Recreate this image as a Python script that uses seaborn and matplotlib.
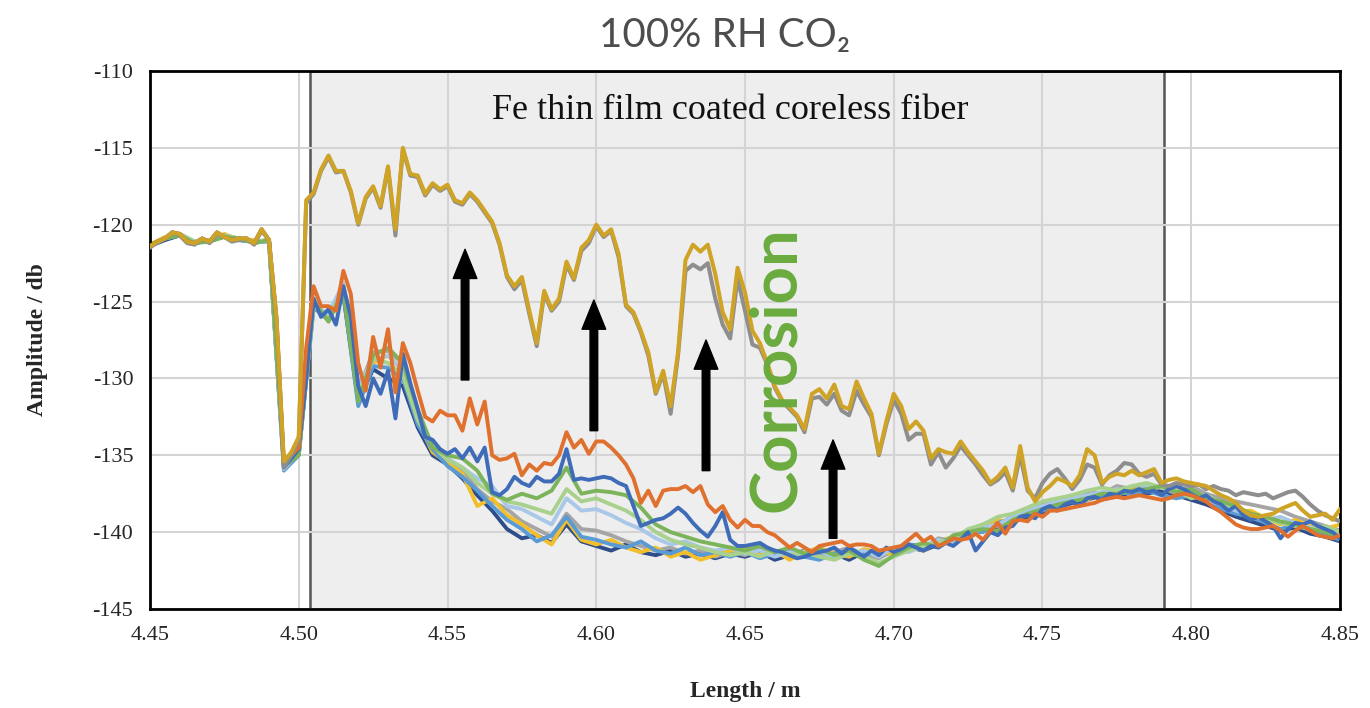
import numpy as np
import matplotlib
matplotlib.use('Agg')
import matplotlib.pyplot as plt
import seaborn as sns

# %%
# Trace positions (m)
length_fine = np.linspace(4.45, 4.85, 161)    # 0.0025 m step
length_coarse = np.linspace(4.45, 4.85, 81)   # 0.005 m step

# After corrosion (upper traces)
amp_gold = [
    -121.4, -121.1, -120.9, -120.5, -120.6, -121.1, -121.2, -120.9, -121.1, -120.5,
    -120.8, -121.0, -120.9, -120.9, -121.2, -120.3, -121.0, -126.0, -135.4, -134.8,
    -133.8, -118.4, -117.9, -116.4, -115.5, -116.5, -116.5, -117.8, -119.9, -118.2,
    -117.5, -118.8, -116.2, -120.3, -115.0, -116.7, -116.8, -118.0, -117.3, -117.7,
    -117.4, -118.4, -118.6, -117.9, -118.4, -119.1, -119.8, -121.2, -123.3, -124.0,
    -123.4, -125.6, -127.7, -124.3, -125.5, -124.8, -122.4, -123.5, -121.5, -121.0,
    -120.0, -120.7, -120.3, -121.9, -125.2, -125.7, -126.9, -128.3, -130.9, -129.5,
    -131.8, -128.3, -122.3, -121.3, -121.75, -121.3, -123.2, -125.7, -126.8, -122.8,
    -124.4, -126.9, -127.7, -129.0, -130.5, -131.4, -131.9, -132.4, -133.3, -131.0,
    -130.7, -131.3, -130.4, -131.8, -132.0, -130.2, -131.3, -132.3, -134.9, -132.8,
    -131.0, -131.8, -133.3, -132.8, -133.4, -135.2, -134.6, -134.8, -134.9, -134.1,
    -134.8, -135.4, -136.0, -136.8, -136.4, -135.8, -137.1, -134.4, -137.1, -138.0,
    -137.4, -137.0, -136.5, -136.7, -137.0, -136.3, -134.6, -135.0, -136.8, -136.4,
    -136.2, -136.3, -136.0, -136.3, -136.1, -135.9, -136.8, -136.6, -136.5, -136.7,
    -136.8, -136.9, -137.0, -137.3, -137.6, -137.8, -138.1, -138.6, -138.9, -139.0,
    -138.9, -138.8, -138.5, -138.3, -138.1, -138.6, -139.0, -138.9, -138.8, -139.2,
    -138.5]
amp_grey_top = [
    -121.5, -121.1, -120.9, -120.5, -120.7, -121.2, -121.3, -120.9, -121.2, -120.6,
    -120.8, -121.1, -121.0, -120.9, -121.3, -120.4, -121.0, -126.2, -135.8, -135.0,
    -134.0, -118.6, -118.0, -116.5, -115.6, -116.6, -116.5, -117.9, -120.0, -118.3,
    -117.6, -118.9, -116.3, -120.7, -115.1, -116.8, -116.9, -118.1, -117.4, -117.8,
    -117.5, -118.5, -118.7, -118.0, -118.5, -119.2, -119.9, -121.3, -123.4, -124.2,
    -123.6, -125.8, -127.9, -124.5, -125.6, -125.0, -122.6, -123.6, -121.7, -121.2,
    -120.1, -120.8, -120.4, -122.1, -125.3, -125.8, -127.0, -128.5, -131.0, -129.7,
    -132.3, -128.5, -123.0, -122.6, -122.9, -122.5, -124.8, -126.5, -127.4, -123.5,
    -125.6, -127.8, -128.0, -129.1, -130.6, -131.5, -132.0, -132.5, -133.5, -131.3,
    -131.2, -131.7, -131.0, -132.1, -132.4, -130.8, -131.7, -132.5, -135.0, -133.0,
    -131.4, -132.3, -134.0, -133.6, -133.6, -135.6, -134.8, -135.8, -135.2, -134.4,
    -135.0, -135.6, -136.3, -136.9, -136.6, -136.1, -137.3, -135.0, -137.3, -137.8,
    -136.8, -136.2, -135.9, -136.5, -137.2, -136.6, -135.6, -135.8, -136.9, -136.3,
    -136.0, -135.5, -135.6, -136.2, -136.4, -136.2, -136.9, -137.0, -136.8, -136.9,
    -137.0, -136.9, -137.2, -137.0, -137.2, -137.3, -137.6, -137.4, -137.5, -137.6,
    -137.5, -137.8, -137.6, -137.4, -137.3, -137.7, -138.2, -138.6, -138.9, -139.1,
    -139.3]

# Before / during exposure (lower bundle)
amp_orange = [
    -121.4, -121.1, -120.9, -120.5, -120.6, -121.1, -121.2, -120.9, -121.1, -120.5,
    -120.8, -121.0, -120.9, -120.9, -121.2, -120.3, -121.0, -126.0, -135.5, -135.0,
    -134.5, -128.0, -124.0, -125.3, -125.3, -125.6, -123.0, -124.5, -129.0, -130.8,
    -127.3, -129.3, -126.8, -130.9, -127.7, -129.0, -130.8, -132.5, -132.8, -132.1,
    -132.4, -132.4, -133.4, -131.3, -133.0, -131.5, -135.0, -135.3, -135.2, -134.9,
    -136.3, -135.6, -136.0, -135.5, -135.6, -135.0, -133.5, -134.5, -134.0, -134.9,
    -134.1, -134.1, -134.5, -135.0, -135.6, -136.5, -138.1, -137.3, -138.3, -137.3,
    -137.2, -137.2, -137.0, -137.4, -137.0, -138.2, -138.7, -138.3, -139.2, -139.7,
    -139.2, -139.6, -139.6, -140.0, -140.2, -140.6, -141.0, -140.7, -141.0, -141.3,
    -140.9, -140.8, -140.7, -140.6, -140.9, -140.8, -140.8, -140.9, -141.2, -141.1,
    -141.0, -140.9, -140.5, -140.1, -140.6, -140.3, -140.9, -140.7, -140.4, -140.5,
    -140.4, -140.1, -140.5, -139.9, -139.4, -140.1, -139.3, -139.2, -139.3, -138.8,
    -139.0, -138.6, -138.6, -138.5, -138.4, -138.3, -138.2, -138.1, -137.9, -137.8,
    -137.7, -137.8, -137.7, -137.6, -137.7, -137.8, -137.9, -137.8, -137.6, -137.5,
    -137.6, -137.8, -138.0, -138.4, -138.7, -139.1, -139.5, -139.7, -139.8, -139.8,
    -139.7, -139.6, -139.9, -140.3, -139.9, -139.6, -139.9, -140.2, -140.3, -140.4,
    -140.2]
amp_blue = [
    -121.4, -121.1, -120.9, -120.5, -120.6, -121.1, -121.2, -120.9, -121.1, -120.5,
    -120.8, -121.0, -120.9, -120.9, -121.2, -120.3, -121.0, -126.3, -135.8, -135.2,
    -134.6, -130.0, -124.8, -126.0, -125.5, -126.5, -124.0, -126.0, -130.5, -131.8,
    -130.0, -131.0, -129.5, -132.6, -128.4, -130.3, -132.0, -133.8, -134.0, -134.6,
    -134.9, -134.6, -135.2, -134.5, -135.4, -134.5, -137.4, -137.6, -137.2, -136.4,
    -136.8, -137.0, -136.4, -136.7, -136.7, -136.2, -134.6, -136.6, -136.5, -136.6,
    -136.5, -136.4, -136.5, -136.8, -137.0, -138.3, -139.6, -139.4, -139.2, -139.1,
    -138.8, -138.4, -138.8, -139.4, -139.9, -140.3, -139.6, -138.7, -140.5, -140.9,
    -140.9, -140.8, -140.7, -141.0, -141.2, -141.3, -141.5, -141.7, -141.6, -141.4,
    -141.3, -141.2, -141.0, -141.4, -141.0, -141.3, -141.6, -141.2, -141.5, -141.0,
    -141.3, -141.1, -140.8, -141.0, -141.2, -140.9, -141.0, -140.7, -140.9, -140.5,
    -140.0, -141.2, -140.6, -140.0, -140.2, -139.7, -139.6, -139.0, -138.9, -139.1,
    -138.5, -138.3, -138.6, -138.2, -138.0, -138.3, -137.8, -137.7, -137.9, -137.5,
    -137.6, -137.3, -137.4, -137.2, -137.4, -137.3, -137.6, -137.2, -137.0, -137.2,
    -137.5, -137.8, -137.6, -138.0, -138.2, -138.6, -138.3, -138.9, -139.2, -139.0,
    -139.3, -139.6, -140.4, -139.8, -139.4, -139.5, -139.3, -139.6, -139.8, -140.0,
    -140.4]

amp_green = [
    -121.3, -120.9, -120.7, -121.2, -121.1, -120.8, -120.9, -121.2, -121.0, -135.7,
    -135.0, -125.0, -126.3, -124.3, -131.5, -128.5, -128.0, -129.0, -132.0, -134.5,
    -135.0, -135.2, -136.0, -137.5, -137.9, -137.5, -137.8, -137.3, -135.8, -137.5,
    -137.3, -137.4, -137.6, -138.4, -139.5, -140.0, -140.3, -140.6, -140.8, -141.0,
    -141.2, -140.9, -141.3, -141.0, -141.4, -141.1, -141.5, -141.2, -141.8, -142.2,
    -141.5, -141.0, -140.7, -141.0, -140.2, -140.0, -139.8, -139.9, -139.2, -138.8,
    -138.5, -138.2, -138.0, -137.8, -137.5, -137.5, -137.3, -137.2, -137.0, -137.4,
    -137.2, -137.8, -138.0, -138.3, -138.8, -139.0, -139.3, -139.5, -139.8, -140.0,
    -140.3]
amp_light_blue = [
    -121.4, -120.9, -120.6, -121.1, -121.0, -120.7, -120.9, -121.1, -121.1, -135.9,
    -134.8, -125.3, -125.8, -123.8, -130.5, -128.8, -128.5, -129.5, -132.3, -134.3,
    -135.2, -135.8, -136.5, -137.0, -138.3, -138.5, -139.0, -139.5, -137.8, -138.6,
    -138.5, -138.9, -139.4, -139.8, -140.4, -140.8, -140.6, -141.0, -141.2, -141.0,
    -141.4, -141.2, -141.6, -141.3, -141.5, -141.2, -141.7, -141.4, -141.2, -141.6,
    -141.0, -141.3, -140.9, -140.5, -140.8, -140.2, -139.7, -139.5, -139.0, -138.6,
    -138.3, -138.0, -137.8, -137.6, -137.4, -137.2, -137.4, -137.0, -137.1, -137.3,
    -137.5, -137.9, -138.2, -138.6, -138.9, -139.2, -139.0, -139.4, -139.7, -139.9,
    -140.1]
amp_yellow = [
    -121.3, -120.8, -120.7, -121.2, -121.0, -120.6, -121.0, -121.0, -121.1, -135.4,
    -134.7, -125.1, -126.0, -124.0, -131.0, -129.0, -128.5, -129.5, -132.8, -134.8,
    -135.5, -136.2, -138.3, -137.8, -138.9, -139.5, -140.2, -140.8, -139.2, -140.5,
    -140.8, -140.5, -141.0, -141.3, -141.0, -141.6, -141.3, -141.8, -141.5, -141.2,
    -141.0, -141.5, -141.2, -141.8, -141.3, -141.0, -141.4, -141.6, -141.1, -141.3,
    -141.4, -140.8, -141.2, -140.6, -140.3, -140.4, -139.8, -139.2, -139.4, -138.7,
    -138.4, -138.1, -137.7, -137.9, -137.4, -137.6, -137.2, -137.3, -137.0, -137.2,
    -137.6, -137.9, -138.4, -138.7, -138.6, -139.1, -139.5, -139.2, -139.6, -139.8,
    -139.5]
amp_grey = [
    -121.4, -120.9, -120.6, -121.1, -121.1, -120.7, -120.9, -121.2, -121.0, -135.8,
    -134.9, -125.2, -125.9, -124.2, -130.8, -128.3, -128.2, -129.0, -132.5, -134.6,
    -135.3, -136.0, -137.2, -138.0, -138.5, -139.3, -139.8, -140.3, -138.8, -139.8,
    -139.9, -140.2, -140.6, -140.9, -141.2, -141.0, -141.4, -141.2, -141.6, -141.3,
    -141.5, -141.1, -141.4, -141.6, -141.2, -141.5, -141.3, -141.0, -141.5, -141.7,
    -141.2, -140.9, -141.0, -140.4, -140.6, -140.0, -139.5, -139.6, -138.9, -138.5,
    -138.2, -137.9, -137.6, -137.4, -137.5, -137.0, -137.2, -136.9, -137.1, -137.5,
    -137.0, -137.5, -137.8, -138.0, -138.2, -138.4, -138.6, -139.0, -139.3, -139.6,
    -139.9]
amp_steel_blue = [
    -121.4, -120.9, -120.7, -121.2, -121.0, -120.7, -121.0, -121.1, -121.0, -136.0,
    -135.0, -125.4, -126.2, -124.5, -131.8, -129.2, -129.3, -130.0, -133.0, -134.6,
    -135.7, -136.4, -137.3, -138.3, -139.2, -139.8, -140.6, -140.2, -139.0, -140.3,
    -140.5, -140.8, -141.0, -140.6, -141.2, -141.4, -141.0, -141.5, -141.3, -141.6,
    -141.3, -141.7, -141.4, -141.2, -141.6, -141.8, -141.4, -141.2, -141.5, -141.3,
    -141.1, -140.8, -140.9, -140.6, -140.4, -139.9, -140.0, -139.4, -139.1, -138.9,
    -138.6, -138.3, -138.0, -137.6, -137.8, -137.4, -137.5, -137.3, -137.6, -137.8,
    -137.6, -138.0, -138.5, -138.8, -139.0, -139.4, -139.8, -139.5, -139.9, -140.2,
    -140.5]
amp_light_green = [
    -121.3, -120.9, -120.6, -121.1, -121.0, -120.7, -120.9, -121.1, -121.0, -135.6,
    -134.8, -125.0, -126.3, -124.0, -131.2, -128.7, -129.0, -129.8, -132.7, -134.4,
    -135.3, -135.8, -136.8, -137.5, -138.0, -138.2, -138.5, -138.8, -137.2, -138.0,
    -137.8, -138.2, -138.6, -139.2, -140.0, -140.5, -140.8, -141.0, -141.3, -141.5,
    -141.3, -141.6, -141.2, -141.5, -141.3, -141.6, -141.8, -141.4, -141.6, -142.0,
    -141.6, -141.2, -140.9, -140.7, -140.4, -139.8, -139.5, -139.0, -138.8, -138.4,
    -138.0, -137.8, -137.6, -137.3, -137.1, -137.3, -137.0, -136.8, -137.1, -137.3,
    -137.8, -137.6, -138.1, -138.4, -138.9, -139.1, -139.4, -139.6, -139.8, -139.6,
    -140.0]
amp_dark_blue = [
    -121.4, -121.0, -120.7, -121.2, -121.0, -120.7, -121.0, -121.1, -121.1, -135.7,
    -134.9, -125.2, -126.0, -124.6, -131.5, -129.4, -130.0, -130.5, -133.2, -135.0,
    -135.6, -136.5, -137.6, -138.6, -139.8, -140.4, -140.2, -140.7, -139.5, -140.6,
    -140.9, -141.2, -140.8, -141.3, -141.5, -141.2, -141.6, -141.4, -141.7, -141.4,
    -141.6, -141.3, -141.8, -141.5, -141.2, -141.6, -141.4, -141.8, -141.3, -141.5,
    -141.3, -141.0, -141.2, -140.8, -140.6, -140.3, -139.9, -139.7, -139.3, -139.0,
    -138.7, -138.4, -138.1, -137.9, -137.6, -137.7, -137.4, -137.5, -137.3, -137.6,
    -137.9, -138.2, -138.6, -139.0, -139.3, -139.6, -139.9, -139.7, -140.1, -140.3,
    -140.6]

# Arrows: (x, tail, tip)
arrow_x = [4.5559, 4.5992, 4.6369, 4.6796]
arrow_tail = [-130.1, -133.4, -136.0, -140.4]
arrow_tip = [-121.6, -124.9, -127.5, -134.0]

# %%
sns.set_style('white')
plt.rcParams['font.family'] = ['Liberation Serif', 'DejaVu Serif']
plt.rcParams['axes.unicode_minus'] = False

fig = plt.figure(figsize=(13.7, 7.08), dpi=100)
ax = fig.add_axes([150 / 1370, 1 - 609 / 708, 1190 / 1370, 538 / 708])

# shaded coated section
ax.axvspan(4.5038, 4.791, facecolor='#eeeeee', edgecolor='#555555', lw=1.8, zorder=0.3)

coarse = [
    (amp_dark_blue, '#2E4D8A'), (amp_grey, '#A5A5A5'), (amp_yellow, '#F2BE2A'),
    (amp_steel_blue, '#5B9BD5'), (amp_light_blue, '#A9C8E8'), (amp_light_green, '#A9D18E'),
    (amp_green, '#7BB45A'),
]
for vals, col in coarse:
    sns.lineplot(x=length_coarse, y=vals, ax=ax, color=col, lw=2.8, zorder=2)

sns.lineplot(x=length_fine, y=amp_blue, ax=ax, color='#3F6CB8', lw=2.8, zorder=3)
sns.lineplot(x=length_fine, y=amp_orange, ax=ax, color='#E0702E', lw=2.8, zorder=3)
sns.lineplot(x=length_fine, y=amp_grey_top, ax=ax, color='#8E8E8E', lw=2.9, zorder=4)
sns.lineplot(x=length_fine, y=amp_gold, ax=ax, color='#CFA326', lw=2.9, zorder=5)

for xa, t0, t1 in zip(arrow_x, arrow_tail, arrow_tip):
    ax.annotate('', xy=(xa, t1), xytext=(xa, t0),
                arrowprops=dict(facecolor='black', edgecolor='black',
                                width=5.5, headwidth=17, headlength=21, shrink=0),
                zorder=6)

ax.text(4.645, -112.6, 'Fe thin film coated coreless fiber', ha='center', va='center',
        fontsize=26, color='#111111')
ax.text(4.6605, -129.4, 'Corrosion', rotation=90, ha='center', va='center',
        fontsize=47, fontweight='bold', color='#6AAB3E', family=['Lato', 'DejaVu Sans'],
        zorder=7)

ax.set_xlim(4.45, 4.85)
ax.set_ylim(-145, -110)
ax.set_xticks(np.arange(4.45, 4.851, 0.05))
ax.set_xticklabels([f'{v:.2f}' for v in np.arange(4.45, 4.851, 0.05)])
ax.set_xticks(np.arange(4.45, 4.851, 0.01), minor=True)
ax.set_yticks(np.arange(-145, -109, 5))
ax.set_yticks(np.arange(-145, -109, 1), minor=True)

ax.grid(True, which='major', color='#d4d4d4', lw=1.5)
ax.set_axisbelow(True)
for s in ax.spines.values():
    s.set_color('black')
    s.set_linewidth(2)

ax.tick_params(which='major', direction='inout', length=12, width=2, labelsize=16, pad=6)
ax.tick_params(which='minor', direction='in', length=6, width=1.5)

ax.set_xlabel('Length / m', fontsize=17, fontweight='bold', labelpad=26)
ax.set_ylabel('Amplitude / db', fontsize=17, fontweight='bold', labelpad=32)

fig.text(725 / 1370, 1 - 36 / 708, '100% RH CO\u2082', ha='center', va='center',
         fontsize=29, color='#4d4d4d', family=['Lato', 'DejaVu Sans'])

fig.savefig('out.png', dpi=100)
